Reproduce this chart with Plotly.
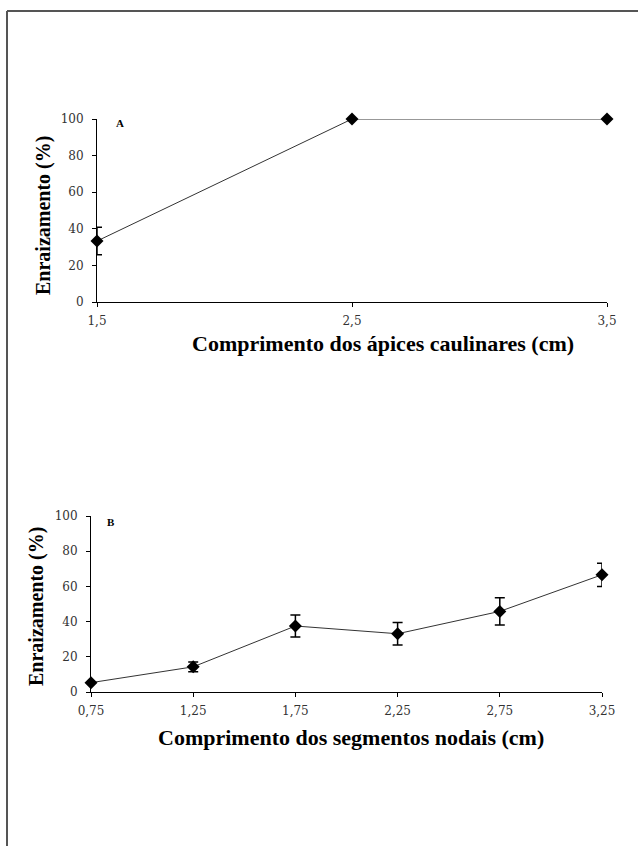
import plotly.graph_objects as go

# Chart A data
a_x = [1.5, 2.5, 3.5]
a_y = [33.3, 100, 100]
a_err = [7.5, None, None]
a_xticks = [1.5, 2.5, 3.5]
a_xticklabels = ["1,5", "2,5", "3,5"]

# Chart B data
b_x = [0.75, 1.25, 1.75, 2.25, 2.75, 3.25]
b_y = [5.3, 14.3, 37.5, 33.1, 45.8, 66.6]
b_err = [None, 2.8, 6.3, 6.4, 7.8, 6.6]
b_xticks = [0.75, 1.25, 1.75, 2.25, 2.75, 3.25]
b_xticklabels = ["0,75", "1,25", "1,75", "2,25", "2,75", "3,25"]

y_ticks = [0, 20, 40, 60, 80, 100]

W, H = 638, 846

def px(v):
    return v / W

def py(v):
    return 1 - v / H

fig = go.Figure()

marker = dict(symbol="diamond", size=10, color="black")
line = dict(color="#333333", width=1)

fig.add_trace(go.Scatter(x=a_x, y=a_y, mode="lines+markers", marker=marker, line=line,
                         error_y=dict(type="data", array=a_err, visible=True, color="black",
                                      thickness=1.5, width=5),
                         cliponaxis=False, xaxis="x", yaxis="y", showlegend=False))
fig.add_trace(go.Scatter(x=b_x, y=b_y, mode="lines+markers", marker=marker, line=line,
                         error_y=dict(type="data", array=b_err, visible=True, color="black",
                                      thickness=1.5, width=5),
                         cliponaxis=False, xaxis="x2", yaxis="y2", showlegend=False))

tickfont = dict(family="DejaVu Serif", size=12, color="#333333")
axcommon = dict(showline=True, linecolor="black", linewidth=1, showgrid=False, zeroline=False,
                ticks="outside", ticklen=4, tickcolor="black", tickwidth=1, tickfont=tickfont,
                automargin=False, fixedrange=True)
# overlay axes drawing the inner half of the crossing tick marks
inner = dict(showline=False, showgrid=False, zeroline=False, ticks="inside", ticklen=3,
             tickcolor="black", tickwidth=1, showticklabels=False, automargin=False,
             fixedrange=True)

A_XD = [px(97), px(607)]
A_YD = [py(302), py(119)]
B_XD = [px(91), px(602)]
B_YD = [py(692), py(516)]

fig.update_layout(
    width=W, height=H, autosize=False,
    margin=dict(l=0, r=0, t=0, b=0, pad=0),
    paper_bgcolor="white", plot_bgcolor="white",
    xaxis=dict(domain=A_XD, range=[1.5, 3.5], tickvals=a_xticks,
               ticktext=a_xticklabels, anchor="y", ticklabelstandoff=4, **axcommon),
    yaxis=dict(domain=A_YD, range=[0, 100], tickvals=y_ticks, anchor="x",
               ticklabelstandoff=6, **axcommon),
    xaxis2=dict(domain=B_XD, range=[0.75, 3.25], tickvals=b_xticks,
                ticktext=b_xticklabels, anchor="y2", ticklabelstandoff=4, **axcommon),
    yaxis2=dict(domain=B_YD, range=[0, 100], tickvals=y_ticks, anchor="x2",
                ticklabelstandoff=6, **axcommon),
    xaxis3=dict(domain=A_XD, range=[1.5, 3.5], tickvals=a_xticks, anchor="y",
                overlaying="x", **inner),
    yaxis3=dict(domain=A_YD, range=[0, 100], tickvals=y_ticks, anchor="x",
                overlaying="y", **inner),
    xaxis4=dict(domain=B_XD, range=[0.75, 3.25], tickvals=b_xticks, anchor="y2",
                overlaying="x2", **inner),
    yaxis4=dict(domain=B_YD, range=[0, 100], tickvals=y_ticks, anchor="x2",
                overlaying="y2", **inner),
)

title_font_y = dict(family="Liberation Serif", size=20, color="black")
title_font_x = dict(family="Liberation Serif", size=22, color="black")
annots = [
    dict(text="<b>Enraizamento (%)</b>", x=px(44), y=py(216), textangle=-90, font=title_font_y),
    dict(text="<b>Enraizamento (%)</b>", x=px(36), y=py(607), textangle=-90, font=title_font_y),
    dict(text="<b>Comprimento dos ápices caulinares (cm)</b>", x=px(383), y=py(343), font=title_font_x),
    dict(text="<b>Comprimento dos segmentos nodais (cm)</b>", x=px(351), y=py(737), font=title_font_x),
    dict(text="<b>A</b>", x=px(120), y=py(123), font=dict(family="Liberation Serif", size=11, color="black")),
    dict(text="<b>B</b>", x=px(111), y=py(522), font=dict(family="Liberation Serif", size=11, color="black")),
]
for a in annots:
    a.update(xref="paper", yref="paper", xanchor="center", yanchor="middle", showarrow=False)
fig.update_layout(annotations=annots)

fig.add_shape(type="line", xref="paper", yref="paper", x0=px(7), x1=1.02, y0=py(11), y1=py(11),
              line=dict(color="#555555", width=2))
fig.add_shape(type="line", xref="paper", yref="paper", x0=px(7), x1=px(7), y0=py(11), y1=-0.02,
              line=dict(color="#555555", width=2))

fig.write_html("out.html", config={"displayModeBar": False},
               post_script="document.body.style.margin='0';")
